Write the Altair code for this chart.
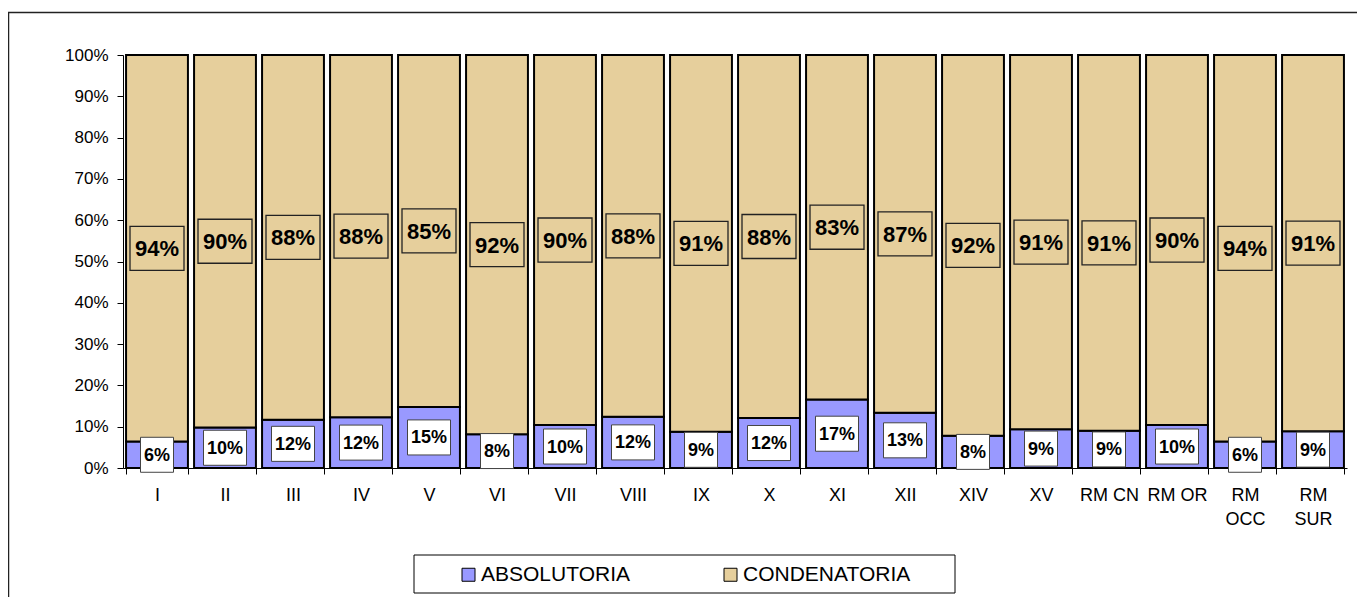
import altair as alt
import pandas as pd

categories = ["I", "II", "III", "IV", "V", "VI", "VII", "VIII", "IX", "X",
              "XI", "XII", "XIV", "XV", "RM CN", "RM OR", "RM OCC", "RM SUR"]
absolutoria = [6.4, 9.8, 11.7, 12.3, 14.8, 8.2, 10.4, 12.4, 8.8, 12.1,
               16.6, 13.4, 7.8, 9.4, 9.0, 10.4, 6.4, 8.9]
condenatoria = [93.6, 90.2, 88.3, 87.7, 85.2, 91.8, 89.6, 87.6, 91.2, 87.9,
                83.4, 86.6, 92.2, 90.6, 91.0, 89.6, 93.6, 91.1]
abs_labels = ["6%", "10%", "12%", "12%", "15%", "8%", "10%", "12%", "9%", "12%",
              "17%", "13%", "8%", "9%", "9%", "10%", "6%", "9%"]
cond_labels = ["94%", "90%", "88%", "88%", "85%", "92%", "90%", "88%", "91%", "88%",
               "83%", "87%", "92%", "91%", "91%", "90%", "94%", "91%"]
series = ["ABSOLUTORIA", "CONDENATORIA"]
colors = ["#9999FF", "#E6CF9C"]
y_ticks = [0, 10, 20, 30, 40, 50, 60, 70, 80, 90, 100]

FONT = "Liberation Sans"

df = pd.DataFrame({
    "cat": categories,
    "ABSOLUTORIA": absolutoria,
    "CONDENATORIA": condenatoria,
    "abs_lab": abs_labels,
    "cond_lab": cond_labels,
})

x_enc = alt.X(
    "cat:N", sort=categories, title=None,
    scale=alt.Scale(paddingInner=0.09, paddingOuter=0.045),
    axis=alt.Axis(
        labelAngle=0, tickBand="extent", tickSize=6, tickColor="black",
        domainColor="black", labelFontSize=18, labelFont=FONT, labelColor="black",
        labelPadding=12, labelLineHeight=24,
        labelExpr="datum.label == 'RM OCC' || datum.label == 'RM SUR' ? split(datum.label, ' ') : datum.label",
    ),
)
y_scale = alt.Scale(domain=[0, 100], nice=False)

base = alt.Chart(df)

bars = base.transform_fold(series, as_=["tipo", "valor"]).mark_bar(
    stroke="black", strokeWidth=2
).encode(
    x=x_enc,
    y=alt.Y("valor:Q", stack="zero", scale=y_scale, title=None,
            axis=alt.Axis(values=y_ticks, labelExpr="datum.value + '%'", grid=False,
                          tickSize=6, tickColor="black", domainColor="black",
                          labelFontSize=17, labelFont=FONT, labelColor="black",
                          labelPadding=9)),
    color=alt.Color("tipo:N", scale=alt.Scale(domain=series, range=colors),
                    legend=alt.Legend(orient="none", legendX=335, legendY=509,
                                      direction="horizontal", title=None,
                                      symbolType="square", symbolSize=169,
                                      symbolStrokeColor="black", symbolStrokeWidth=1,
                                      symbolOpacity=1, labelLimit=400,
                                      labelFontSize=21, labelFont=FONT, labelColor="black",
                                      labelOffset=2, columnPadding=90, padding=0)),
    order=alt.Order("tipo:N"),
)

box_wide = "M-1,-0.815L1,-0.815L1,0.815L-1,0.815Z"
box_narrow = "M-1,-1.06L1,-1.06L1,1.06L-1,1.06Z"

cond_pos = base.transform_calculate(mid="datum.ABSOLUTORIA + datum.CONDENATORIA / 2")
cond_box = cond_pos.mark_point(shape=box_wide, size=2916, fill="transparent",
                               stroke="#222222", strokeWidth=1.3, opacity=1).encode(
    x=alt.X("cat:N", sort=categories), y=alt.Y("mid:Q", scale=y_scale))
cond_text = cond_pos.mark_text(font=FONT, fontSize=22, fontWeight="bold",
                               color="black", baseline="middle", dy=1).encode(
    x=alt.X("cat:N", sort=categories), y=alt.Y("mid:Q", scale=y_scale),
    text="cond_lab:N")

abs_pos = base.transform_calculate(mid="datum.ABSOLUTORIA / 2")
abs_box2 = abs_pos.transform_filter("length(datum.abs_lab) > 2").mark_point(
    shape=box_wide, size=1849, fill="white", stroke="#444444", strokeWidth=1,
    opacity=1).encode(x=alt.X("cat:N", sort=categories), y=alt.Y("mid:Q", scale=y_scale))
abs_box1 = abs_pos.transform_filter("length(datum.abs_lab) <= 2").mark_point(
    shape=box_narrow, size=1089, fill="white", stroke="#444444", strokeWidth=1,
    opacity=1).encode(x=alt.X("cat:N", sort=categories), y=alt.Y("mid:Q", scale=y_scale))
abs_text = abs_pos.mark_text(font=FONT, fontSize=18, fontWeight="bold",
                             color="black", baseline="middle", dy=1).encode(
    x=alt.X("cat:N", sort=categories), y=alt.Y("mid:Q", scale=y_scale),
    text="abs_lab:N")

one = alt.Chart(pd.DataFrame({"k": [0]}))
legend_box = one.mark_rect(fill="white", stroke="black", strokeWidth=1).encode(
    x=alt.value(291), x2=alt.value(832), y=alt.value(500), y2=alt.value(538))
outer_box = one.mark_rect(fill="transparent", stroke="#222222", strokeWidth=1.5).encode(
    x=alt.value(-114.5), x2=alt.value(1300), y=alt.value(-42.5), y2=alt.value(620))

chart = alt.layer(
    outer_box, legend_box, bars, cond_box, cond_text, abs_box2, abs_box1, abs_text
).properties(
    width=1224, height=413,
    autosize=alt.AutoSizeParams(type="none"),
    padding={"left": 115, "top": 47, "right": 10, "bottom": 129},
    background="white",
).configure_view(stroke=None)

chart.save("out.html", embed_options={"renderer": "svg", "actions": False})
